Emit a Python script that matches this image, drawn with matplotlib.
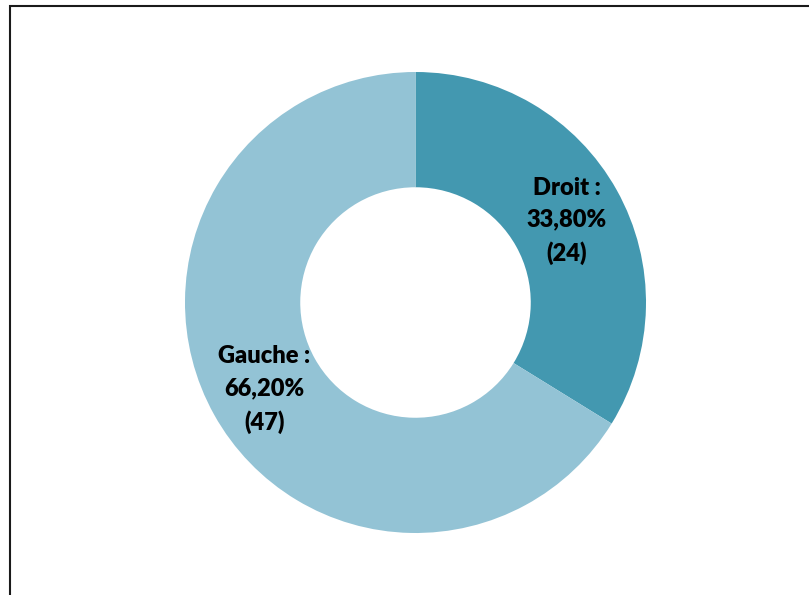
import matplotlib
matplotlib.use("Agg")
import matplotlib.pyplot as plt
from matplotlib.lines import Line2D
import numpy as np

# data
categories = ["Droit", "Gauche"]
counts = [24, 47]
percents = ["33,80%", "66,20%"]
colors = ["#4398B0", "#93C3D5"]

W, H = 809, 595
fig = plt.figure(figsize=(W / 100, H / 100), dpi=100)

# donut placement (pixels in the reference)
cx, cy, r = 415.5, 302.5, 230.5
ax = fig.add_axes([(cx - r) / W, 1 - (cy + r) / H, 2 * r / W, 2 * r / H])

labels = [f"{c} :\n{p}\n({n})" for c, p, n in zip(categories, percents, counts)]

wedges, _ = ax.pie(counts, colors=colors, startangle=90, counterclock=False,
                   radius=1, wedgeprops=dict(width=0.5, linewidth=0))

# labels in the middle of the ring
for w, lab in zip(wedges, labels):
    mid = np.deg2rad((w.theta1 + w.theta2) / 2)
    ax.text(0.75 * np.cos(mid), 0.75 * np.sin(mid) - 0.012, lab, ha="center", va="center",
            fontsize=17, fontweight="heavy", family="Lato", linespacing=1.55,
            color="black")

ax.set_xlim(-1, 1)
ax.set_ylim(-1, 1)
ax.set_aspect("equal")
ax.axis("off")

# chart frame (left and top edges visible)
x0, y0 = 10 / W, 1 - 5.5 / H
fig.add_artist(Line2D([x0, x0, 1.01], [-0.01, y0, y0], transform=fig.transFigure,
                      color="#1a1a1a", linewidth=1.5, solid_joinstyle="miter"))

fig.savefig("out.png", dpi=100, facecolor="white")
